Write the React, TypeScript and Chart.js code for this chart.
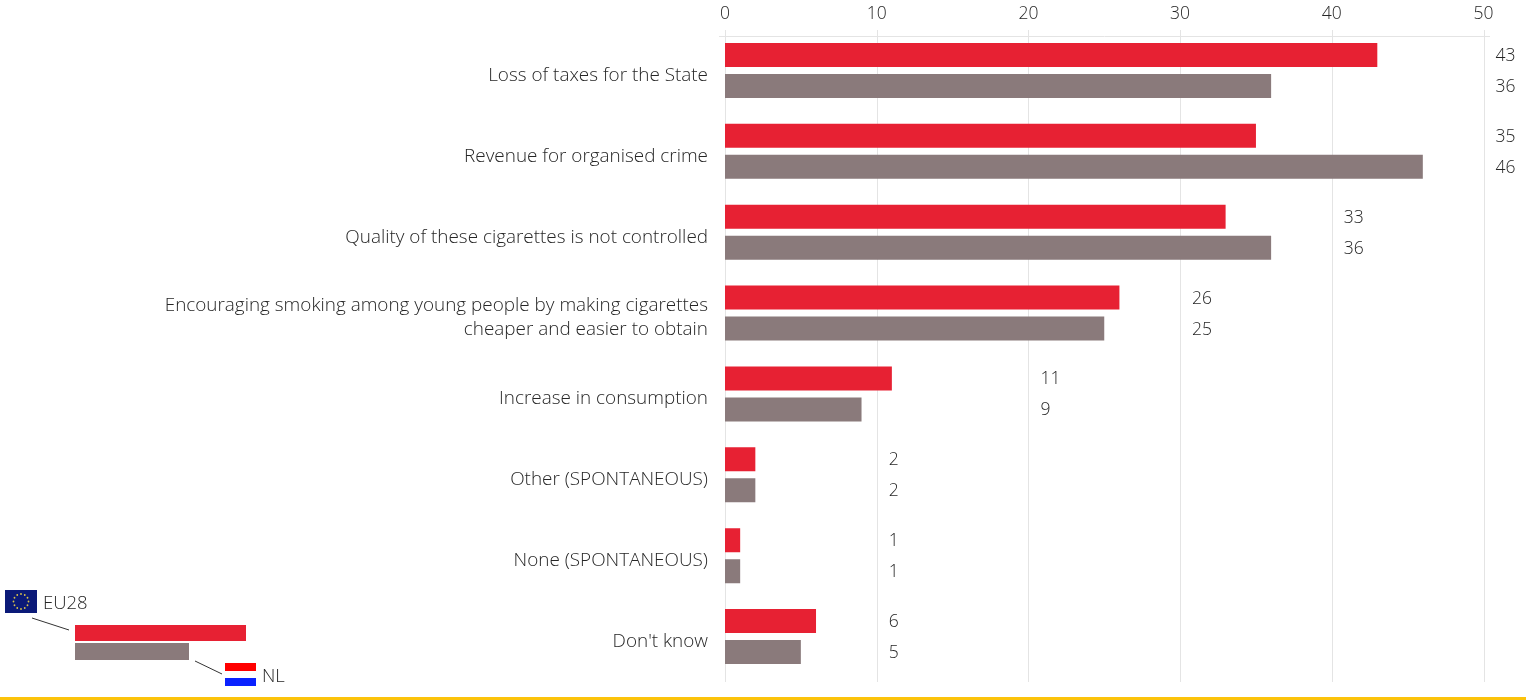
import { useEffect, useRef } from "react";
import { Chart, registerables } from "chart.js";

Chart.register(...registerables);

const categories: (string | string[])[] = [
  "Loss of taxes for the State",
  "Revenue for organised crime",
  "Quality of these cigarettes is not controlled",
  ["Encouraging smoking among young people by making cigarettes", "cheaper and easier to obtain"],
  "Increase in consumption",
  "Other (SPONTANEOUS)",
  "None (SPONTANEOUS)",
  "Don't know",
];
const eu28 = [43, 35, 33, 26, 11, 2, 1, 6];
const nl = [36, 46, 36, 25, 9, 2, 1, 5];
const xTicks = [0, 10, 20, 30, 40, 50];

const RED = "#e72133";
const GREY = "#8a7a7b";
const TEXT = "#262626";
const RULE = "#e4e4e4";
const FONT = "'Open Sans', sans-serif";

// Rules above the plot, the small legend key, the flags and the footer stripe.
const furniture = {
  id: "furniture",
  beforeDatasetsDraw(chart: any) {
    const { ctx, scales } = chart;
    const x = scales.x;
    ctx.save();
    ctx.strokeStyle = RULE;
    ctx.lineWidth = 1;
    xTicks.forEach((t) => {
      const px = Math.round(x.getPixelForValue(t)) + 0.5;
      ctx.beginPath();
      ctx.moveTo(px, 30);
      ctx.lineTo(px, 682);
      ctx.stroke();
    });
    ctx.beginPath();
    ctx.moveTo(719, 36.5);
    ctx.lineTo(1490, 36.5);
    ctx.stroke();
    ctx.restore();
  },
  afterDatasetsDraw(chart: any) {
    const { ctx, scales } = chart;
    const x = scales.x;
    ctx.save();

    // Value labels sit in a column just past the next gridline.
    ctx.fillStyle = TEXT;
    ctx.font = `300 17.5px ${FONT}`;
    ctx.textAlign = "left";
    ctx.textBaseline = "middle";
    chart.data.datasets.forEach((ds: any, di: number) => {
      const meta = chart.getDatasetMeta(di);
      ds.data.forEach((v: number, i: number) => {
        const top = Math.max(eu28[i], nl[i]);
        const anchor = Math.ceil(top / 10) * 10;
        ctx.fillText(String(v), x.getPixelForValue(anchor) + 12, meta.data[i].y + 1);
      });
    });

    // Legend key
    ctx.fillStyle = RED;
    ctx.fillRect(75, 625, 171, 16);
    ctx.fillStyle = GREY;
    ctx.fillRect(75, 643, 114, 17);
    ctx.strokeStyle = "#333";
    ctx.lineWidth = 1;
    ctx.beginPath();
    ctx.moveTo(32, 618);
    ctx.lineTo(69, 630);
    ctx.moveTo(195, 661);
    ctx.lineTo(222, 674);
    ctx.stroke();

    // EU flag
    ctx.fillStyle = "#0b1a78";
    ctx.fillRect(5, 590, 32, 23);
    ctx.fillStyle = "#d9c34a";
    for (let k = 0; k < 12; k++) {
      const a = (k * Math.PI) / 6;
      ctx.beginPath();
      ctx.arc(21 + 7.5 * Math.cos(a), 601.5 + 7.5 * Math.sin(a), 0.9, 0, Math.PI * 2);
      ctx.fill();
    }

    // NL flag
    ctx.fillStyle = "#ff0000";
    ctx.fillRect(225, 663, 31, 8);
    ctx.fillStyle = "#0a22ff";
    ctx.fillRect(225, 678, 31, 8);

    ctx.fillStyle = TEXT;
    ctx.font = `300 18.5px ${FONT}`;
    ctx.fillText("EU28", 43, 604);
    ctx.fillText("NL", 262, 677);

    // Footer stripe
    ctx.fillStyle = "#fcc30b";
    ctx.fillRect(0, 697, 1526, 3);
    ctx.restore();
  },
};

export default function App() {
  const ref = useRef<HTMLCanvasElement>(null);

  useEffect(() => {
    const chart = new Chart(ref.current!, {
      type: "bar",
      data: {
        labels: categories as any,
        datasets: [
          { label: "EU28", data: eu28, backgroundColor: RED, categoryPercentage: 0.767, barPercentage: 0.774 },
          { label: "NL", data: nl, backgroundColor: GREY, categoryPercentage: 0.767, barPercentage: 0.774 },
        ],
      },
      options: {
        indexAxis: "y",
        responsive: false,
        animation: false,
        layout: { padding: { top: 0, right: 42.5, bottom: 23, left: 0 } },
        plugins: { legend: { display: false }, tooltip: { enabled: false } },
        scales: {
          x: {
            position: "top",
            min: 0,
            max: 50,
            afterFit: (s: any) => { s.height = 30; },
            afterBuildTicks: (s: any) => { s.ticks = xTicks.map((value) => ({ value })); },
            grid: { display: false, drawTicks: false },
            border: { display: false },
            ticks: { color: TEXT, padding: 5, font: { family: FONT, size: 17.5, weight: "300" }, maxRotation: 0 },
          },
          y: {
            afterFit: (s: any) => {
              s.width = 725;
              s.paddingTop = 0;
              s.paddingBottom = 0;
            },
            grid: { display: false, drawTicks: false },
            border: { display: false },
            ticks: {
              color: TEXT,
              padding: 17,
              labelOffset: 5,
              autoSkip: false,
              font: { family: FONT, size: 18.9, weight: "300", lineHeight: 1.27 },
            },
          },
        },
      },
      plugins: [furniture],
    } as any);
    return () => chart.destroy();
  }, []);

  return (
    <div style={{ position: "absolute", left: 0, top: 0, width: 1526, height: 700 }}>
      <canvas ref={ref} width={1526} height={700} style={{ display: "block" }} />
    </div>
  );
}
